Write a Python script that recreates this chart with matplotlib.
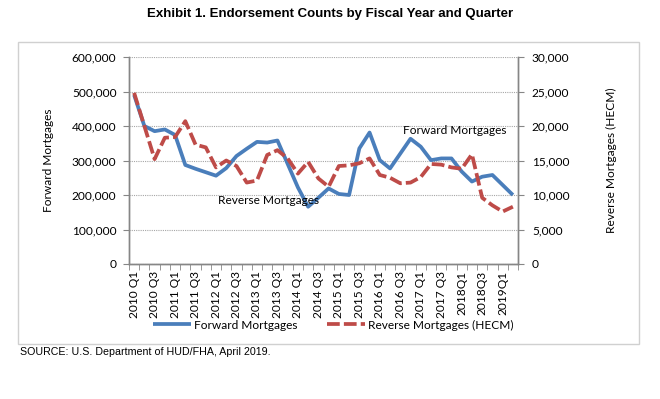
import numpy as np
import matplotlib.pyplot as plt
from matplotlib.patches import Rectangle
from matplotlib.lines import Line2D

# Quarter labels shown on the x axis (every second quarter)
tick_labels = ["2010 Q1", "2010 Q3", "2011 Q1", "2011 Q3", "2012 Q1", "2012 Q3",
               "2013 Q1", "2013 Q3", "2014 Q1", "2014 Q3", "2015 Q1", "2015 Q3",
               "2016 Q1", "2016 Q3", "2017 Q1", "2017 Q3", "2018Q1", "2018Q3",
               "2019Q1"]

# Forward mortgage endorsements (left axis), 2010 Q1 .. 2019 Q2
forward = [490000, 400000, 385000, 390000, 374000, 287000, 276000, 266000,
           256000, 278000, 313000, 334000, 354000, 352000, 358000, 290000,
           222000, 166000, 192000, 219000, 203000, 200000, 335000, 381000,
           301000, 277000, 320000, 363000, 340000, 301000, 306000, 306000,
           268000, 239000, 253000, 258000, 229000, 200000]

# Reverse mortgage (HECM) endorsements (right axis)
reverse = [24800, 20000, 15200, 18300, 18400, 20700, 17300, 16900,
           14000, 15000, 14200, 11800, 12100, 15800, 16500, 15300,
           13100, 14800, 12400, 11200, 14200, 14300, 14600, 15300,
           12900, 12500, 11700, 11800, 12600, 14500, 14400, 14000,
           13800, 15900, 9600, 8500, 7600, 8300]

blue = "#4A7EBB"
red = "#BE4B48"
grey = "#868686"
tick_font = "Lato"
fs = 8.6
lw = 2.7
dash = (3.4, 1.1)

fig = plt.figure(figsize=(6.6, 3.99), dpi=100)
fig.patch.set_facecolor("white")

# outer chart frame
fig.patches.append(Rectangle((18 / 660, 1 - 344 / 399), 621 / 660, 302 / 399,
                             transform=fig.transFigure, fill=False,
                             edgecolor="#D0D0D0", linewidth=1.0))

ax = fig.add_axes([129 / 660, 1 - 264 / 399, 389 / 660, 207 / 399])
ax2 = ax.twinx()

x = np.arange(len(forward))
ax.plot(x, forward, color=blue, linewidth=lw, solid_capstyle="butt", zorder=3)
ax2.plot(x, reverse, color=red, linewidth=lw, dashes=dash, zorder=3)

ax.set_xlim(-0.5, len(forward) - 0.5)
ax.set_ylim(0, 600000)
ax2.set_ylim(0, 30000)
ax.set_yticks(np.arange(0, 600001, 100000))
ax2.set_yticks(np.arange(0, 30001, 5000))
ax.set_yticklabels([f"{v:,}" for v in range(0, 600001, 100000)],
                   fontfamily=tick_font, fontsize=fs)
ax2.set_yticklabels([f"{v:,}" for v in range(0, 30001, 5000)],
                    fontfamily=tick_font, fontsize=fs)

ax.yaxis.grid(True, linestyle=(0, (1, 1)), color="#A6A6A6", linewidth=0.8)
ax.set_axisbelow(True)

ax.set_xticks(np.arange(0, len(forward), 2))
ax.set_xticklabels(tick_labels, rotation=90, fontfamily=tick_font, fontsize=fs)
ax.set_xticks(np.arange(-0.5, len(forward), 1), minor=True)
ax.tick_params(axis="x", which="major", length=0, pad=5)
ax.tick_params(axis="x", which="minor", length=4, color=grey, direction="out")
ax.tick_params(axis="y", length=4, color=grey, pad=5)
ax2.tick_params(axis="y", length=4, color=grey, pad=6)

for a in (ax, ax2):
    a.spines["top"].set_visible(False)
    for s in ("left", "right", "bottom"):
        a.spines[s].set_color(grey)
        a.spines[s].set_linewidth(1.0)

ax.set_ylabel("Forward Mortgages", fontfamily=tick_font, fontsize=fs, labelpad=13)
ax2.set_ylabel("Reverse Mortgages (HECM)", fontfamily=tick_font, fontsize=fs, labelpad=26)

ax.text(x=8.2, y=185000, s="Reverse Mortgages", fontfamily=tick_font,
        fontsize=fs, va="center", ha="left")
ax.text(x=26.3, y=386000, s="Forward Mortgages", fontfamily=tick_font,
        fontsize=fs, va="center", ha="left")

fig.text(0.5, 1 - 14 / 399, "Exhibit 1. Endorsement Counts by Fiscal Year and Quarter",
         ha="center", va="center", fontfamily="Liberation Sans", fontweight="bold",
         fontsize=9.5)

# legend drawn below the rotated labels
handles = [Line2D([], [], color=blue, linewidth=lw, solid_capstyle="butt"),
           Line2D([], [], color=red, linewidth=lw, dashes=dash)]
fig.legend(handles, ["Forward Mortgages", "Reverse Mortgages (HECM)"],
           loc="center", bbox_to_anchor=(0.505, 1 - 325 / 399), ncol=2,
           frameon=False, prop={"family": tick_font, "size": fs},
           handlelength=3.2, handletextpad=0.3, columnspacing=2.4)

fig.text(20 / 660, 1 - 352 / 399, "SOURCE: U.S. Department of HUD/FHA, April 2019.",
         ha="left", va="center", fontfamily="Liberation Sans", fontsize=7.7)

fig.savefig("out.png", dpi=100)
